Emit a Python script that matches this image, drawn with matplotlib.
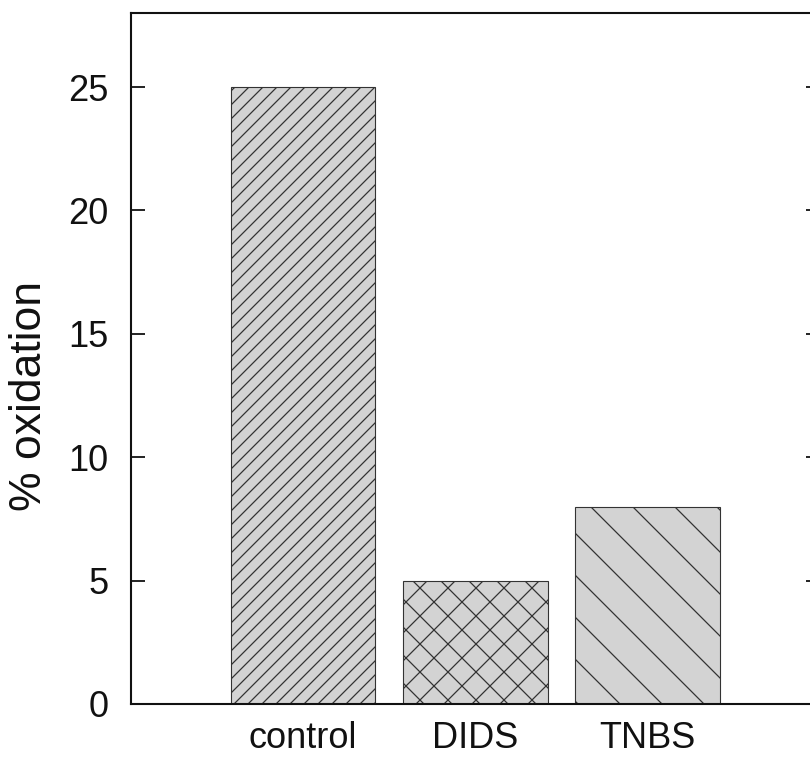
import matplotlib
matplotlib.use("Agg")
import matplotlib.pyplot as plt

# data
groups = ["control", "DIDS", "TNBS"]
oxidation = [25, 5, 8]
hatches = ["//////", "xxx", "\\\\"]
yticks = [0, 5, 10, 15, 20, 25]

# hatch spacing in matplotlib depends on dpi, so the figure is drawn at a
# higher dpi and every size below is written as if at 100 dpi, then scaled by PT
DPI = 252
PT = 100 / DPI

plt.rcParams["font.family"] = ["Liberation Sans", "DejaVu Sans"]
plt.rcParams["hatch.linewidth"] = 0.9 * PT
plt.rcParams["hatch.color"] = "#2a2a2a"

fig = plt.figure(figsize=(810 / DPI, 760 / DPI), dpi=DPI)
ax = fig.add_axes([0.1614, 0.0737, 0.851, 0.9092])

x = list(range(len(groups)))
for xi, val, h in zip(x, oxidation, hatches):
    ax.bar(xi, val, width=0.84, color="#d3d3d3", edgecolor="#333333",
           linewidth=0.8 * PT, hatch=h, zorder=2)

ax.set_xlim(-1, 3)
ax.set_ylim(0, 28)
ax.set_yticks(yticks)
ax.set_xticks(x)
ax.set_xticklabels(groups)

for side in ["left", "bottom", "top", "right"]:
    ax.spines[side].set_linewidth(1.5 * PT)
    ax.spines[side].set_color("#111111")
ax.spines["right"].set_visible(False)

ax.tick_params(axis="y", which="both", direction="in", length=10 * PT,
               width=1.3 * PT, left=True, right=True, labelsize=26 * PT,
               pad=16 * PT, colors="#111111")
ax.tick_params(axis="x", length=0, labelsize=26 * PT, pad=12 * PT,
               colors="#111111")

fig.text(30 / 810, 1 - 396 / 760, "% oxidation", rotation=90, ha="center",
         va="center", fontsize=32 * PT, color="#111111")

fig.savefig("out.png", dpi=DPI)
